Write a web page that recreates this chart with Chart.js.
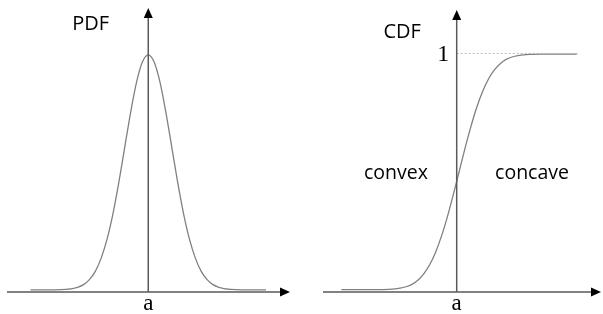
<!DOCTYPE html>
<html>
<head>
<meta charset="utf-8">
<script src="https://cdn.jsdelivr.net/npm/chart.js@4/dist/chart.umd.min.js"></script>
<style>
  body { margin: 0; background: #fff; }
  #wrap { position: relative; width: 603px; height: 314px; }
  canvas { position: absolute; top: 0; }
</style>
</head>
<body>
<div id="wrap">
  <canvas id="pdfChart" width="301" height="314" style="left:0"></canvas>
  <canvas id="cdfChart" width="302" height="314" style="left:301px"></canvas>
</div>
<script>
// PDF curve (bell shape), x in units around "a" = 0
const pdfX = [-5, -4.5, -4, -3.5, -3, -2.75, -2.5, -2.25, -2, -1.75, -1.5, -1.25, -1, -0.75, -0.5, -0.25,
  0, 0.25, 0.5, 0.75, 1, 1.25, 1.5, 1.75, 2, 2.25, 2.5, 2.75, 3, 3.5, 4, 4.5, 5];
const pdfY = [0.009, 0.009, 0.009, 0.011, 0.020, 0.031, 0.052, 0.087, 0.143, 0.223, 0.330, 0.462, 0.610, 0.757, 0.884, 0.970,
  1.000, 0.970, 0.884, 0.757, 0.610, 0.462, 0.330, 0.223, 0.143, 0.087, 0.052, 0.031, 0.020, 0.011, 0.009, 0.009, 0.009];

// CDF curve (S shape)
const cdfX = [-4.9, -4.4, -3.9, -3.4, -2.9, -2.4, -2.15, -1.9, -1.65, -1.4, -1.15, -0.9, -0.65, -0.4, -0.15,
  0.1, 0.35, 0.6, 0.85, 1.1, 1.35, 1.6, 1.85, 2.1, 2.35, 2.6, 3.1, 3.6, 4.1, 4.6, 5.1];
const cdfY = [0.010, 0.010, 0.010, 0.010, 0.011, 0.016, 0.022, 0.032, 0.049, 0.076, 0.114, 0.166, 0.233, 0.314, 0.406,
  0.503, 0.601, 0.692, 0.773, 0.840, 0.893, 0.931, 0.957, 0.975, 0.985, 0.991, 0.996, 0.997, 0.997, 0.997, 0.997];

// dashed level line at 1
const levelX = [0, 5.15];
const levelY = [1, 1];

const axisLabel = 'a';
const levelLabel = '1';

function pts(xs, ys) {
  return xs.map((x, i) => ({ x: x, y: ys[i] }));
}

// draws the two arrow axes and the text labels
const axesPlugin = {
  id: 'axes',
  afterDatasetsDraw(chart, args, opts) {
    const ctx = chart.ctx;
    const xs = chart.scales.x, ys = chart.scales.y;
    const x0 = xs.getPixelForValue(0);
    const y0 = ys.getPixelForValue(0);
    const left = xs.left, right = xs.right, top = ys.top;

    ctx.save();
    ctx.strokeStyle = '#5a5a5a';
    ctx.lineWidth = 1.5;
    ctx.beginPath();
    ctx.moveTo(left, y0);
    ctx.lineTo(right - 6, y0);
    ctx.moveTo(x0, y0);
    ctx.lineTo(x0, top + 6);
    ctx.stroke();

    ctx.fillStyle = '#000';
    ctx.beginPath();
    ctx.moveTo(right, y0);
    ctx.lineTo(right - 10, y0 - 4.5);
    ctx.lineTo(right - 10, y0 + 4.5);
    ctx.closePath();
    ctx.fill();
    ctx.beginPath();
    ctx.moveTo(x0, top);
    ctx.lineTo(x0 - 4.5, top + 10);
    ctx.lineTo(x0 + 4.5, top + 10);
    ctx.closePath();
    ctx.fill();

    ctx.fillStyle = '#000';
    ctx.textAlign = 'center';
    ctx.textBaseline = 'middle';
    ctx.font = '23px "Liberation Serif", serif';
    ctx.fillText(axisLabel, x0, 304);

    if (opts.level) {
      ctx.font = '24px "Liberation Serif", serif';
      ctx.fillText(levelLabel, x0 - 13.5, ys.getPixelForValue(1) + 1);
    }

    (opts.texts || []).forEach(t => {
      ctx.font = t.size + 'px "Open Sans", sans-serif';
      ctx.fillText(t.text, xs.getPixelForValue(t.x), ys.getPixelForValue(t.y));
    });
    ctx.restore();
  }
};

function makeChart(id, datasets, xMin, xMax, yMax, padding, pluginOpts) {
  return new Chart(document.getElementById(id), {
    type: 'line',
    data: { datasets: datasets },
    options: {
      responsive: false,
      animation: false,
      layout: { padding: padding },
      plugins: { legend: { display: false }, tooltip: { enabled: false }, axes: pluginOpts },
      scales: {
        x: { type: 'linear', display: false, min: xMin, max: xMax },
        y: { type: 'linear', display: false, min: 0, max: yMax }
      }
    },
    plugins: [axesPlugin]
  });
}

const curveStyle = {
  borderColor: '#808080',
  borderWidth: 1.3,
  pointRadius: 0,
  cubicInterpolationMode: 'monotone',
  fill: false
};

makeChart('pdfChart',
  [Object.assign({ data: pts(pdfX, pdfY) }, curveStyle)],
  -6, 6.02, 1.198,
  { left: 7, right: 11, top: 8, bottom: 22 },
  { texts: [{ text: 'PDF', x: -2.45, y: 1.13, size: 20 }] });

makeChart('cdfChart',
  [
    { data: pts(levelX, levelY), borderColor: '#b8b8b8', borderWidth: 1, borderDash: [2, 2], pointRadius: 0, fill: false },
    Object.assign({ data: pts(cdfX, cdfY) }, curveStyle)
  ],
  -5.68, 6.13, 1.182,
  { left: 22, right: 2, top: 10, bottom: 22 },
  {
    level: true,
    texts: [
      { text: 'CDF', x: -2.32, y: 1.09, size: 20 },
      { text: 'convex', x: -2.58, y: 0.495, size: 19.5 },
      { text: 'concave', x: 3.2, y: 0.495, size: 19.5 }
    ]
  });
</script>
</body>
</html>
